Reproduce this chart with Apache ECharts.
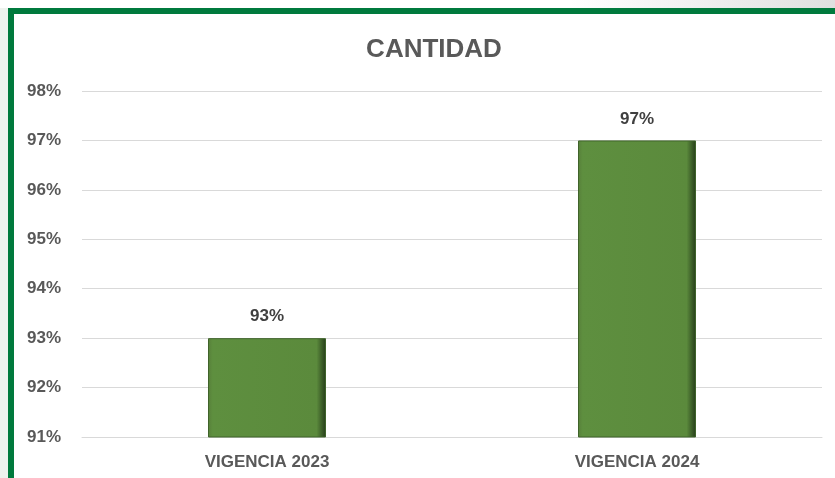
<!DOCTYPE html>
<html>
<head>
<meta charset="utf-8">
<script src="https://cdn.jsdelivr.net/npm/echarts@6/dist/echarts.min.js"></script>
<style>
    html, body { margin: 0; padding: 0; width: 835px; height: 478px; overflow: hidden; }
    body { background: linear-gradient(100deg, #ffffff 62%, #d6d6d6 100%); position: relative; }
    #strip { position: absolute; left: 0; top: 8px; width: 8px; bottom: 0; background: #eef3ee; }
    #frame { position: absolute; left: 8px; top: 8px; right: 0; bottom: 0; background: #fff;
             border-top: 6px solid #007a3d; border-left: 6px solid #007a3d; }
    #chart { position: absolute; left: 0; top: 0; width: 835px; height: 478px; }
</style>
</head>
<body>
<div id="strip"></div>
<div id="frame"></div>
<div id="chart"></div>
<script>
var categories = ['VIGENCIA 2023', 'VIGENCIA 2024'];
var values = [93, 97];

// 柱子的颜色 (带一点立体感)
var barColor = new echarts.graphic.LinearGradient(0, 0, 1, 0, [
    { offset: 0, color: '#577f3a' },
    { offset: 0.04, color: '#5e8f3f' },
    { offset: 0.92, color: '#5b8a3c' },
    { offset: 1, color: '#253c1a' }
]);

var myChart = echarts.init(document.getElementById('chart'));

var option = {
    title: {
        text: 'CANTIDAD',
        left: 429,
        top: 32,
        textAlign: 'center',
        textStyle: {
            color: '#595959',
            fontSize: 26,
            fontWeight: 'bold',
            fontFamily: 'Liberation Sans'
        }
    },
    grid: {
        left: 82,
        right: 13,
        top: 91,
        bottom: 41
    },
    xAxis: {
        type: 'category',
        data: categories,
        axisLine: { lineStyle: { color: '#d9d9d9' } },
        axisTick: { show: false },
        axisLabel: {
            margin: 17,
            color: '#595959',
            fontSize: 17,
            fontWeight: 'bold',
            fontFamily: 'Liberation Sans'
        }
    },
    yAxis: {
        type: 'value',
        min: 91,
        max: 98,
        interval: 1,
        axisLine: { show: false },
        axisTick: { show: false },
        splitLine: { lineStyle: { color: '#d9d9d9' } },
        axisLabel: {
            formatter: '{value}%',
            margin: 21,
            color: '#595959',
            fontSize: 17,
            fontWeight: 'bold',
            fontFamily: 'Liberation Sans'
        }
    },
    series: [{
        type: 'bar',
        data: values,
        barWidth: 118,
        itemStyle: {
            color: barColor,
            borderColor: '#3f632a',
            borderWidth: 1
        },
        label: {
            show: true,
            position: 'top',
            distance: 13,
            formatter: '{c}%',
            color: '#404040',
            fontSize: 17,
            fontWeight: 'bold',
            fontFamily: 'Liberation Sans'
        }
    }]
};

myChart.setOption(option);
</script>
</body>
</html>
